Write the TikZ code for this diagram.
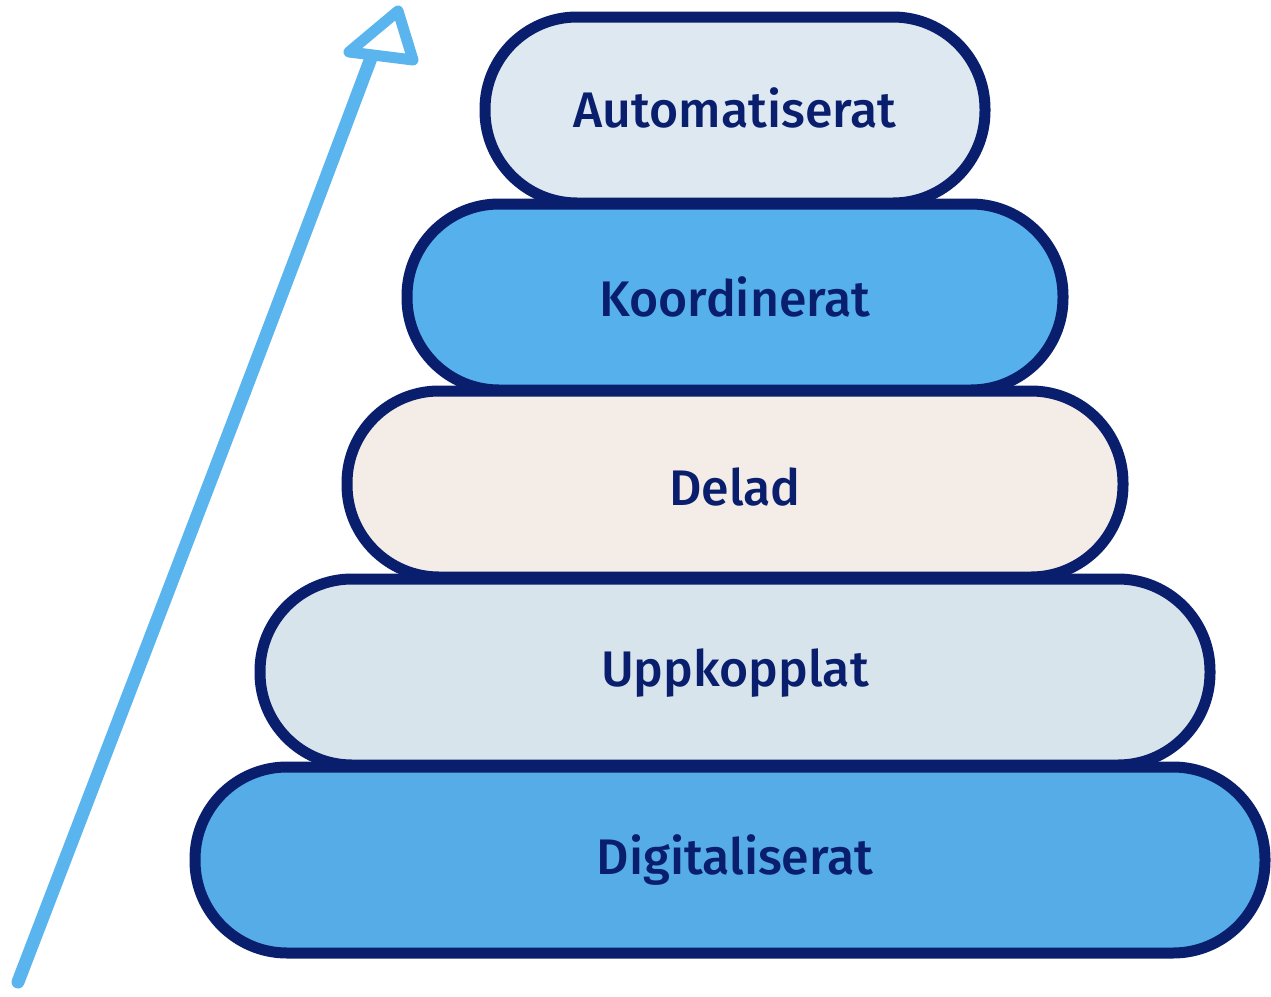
\documentclass[tikz,border=0pt]{standalone}
\usepackage{fontspec}
\setmainfont{Fira Sans}[BoldFont={Fira Sans Medium}]
\definecolor{navy}{HTML}{0A1E6E}
\definecolor{fillA}{HTML}{DDE8F1}
\definecolor{fillK}{HTML}{55B0EC}
\definecolor{fillD}{HTML}{F4ECE6}
\definecolor{fillU}{HTML}{D8E4EC}
\definecolor{fillG}{HTML}{55ACE6}
\definecolor{arrowblue}{HTML}{5AB4EE}
\tikzset{
  tier/.style={draw=navy, line width=11pt, rounded corners=92pt, minimum height=186pt,
    inner sep=0pt},
  label/.style={text=navy, font=\fontsize{50}{60}\selectfont\bfseries},
  sketch/.style={draw=arrowblue, line width=13pt, line cap=round, line join=round}
}
\begin{document}
\begin{tikzpicture}[x=1pt,y=-1pt]
\useasboundingbox (0,0) rectangle (1271,996);
\node[tier, fill=fillA, minimum width=500pt] (auto) at (735,110) {};
\node[tier, fill=fillK, minimum width=656pt] (koord) at (735,297) {};
\node[tier, fill=fillD, minimum width=776pt] (delad) at (735,484) {};
\node[tier, fill=fillU, minimum width=950pt] (upp) at (735,672) {};
\node[tier, fill=fillG, minimum width=1070pt] (digi) at (730,860) {};
\node[label] (tA) at (735,108) {Automatiserat};
\node[label] (tK) at (735,297) {Koordinerat};
\node[label] (tD) at (735,487) {Delad};
\node[label] (tU) at (735,673) {Uppkopplat};
\node[label] (tG) at (735,860) {Digitaliserat};
\coordinate (s0) at (18,982);
\coordinate (s1) at (371,58);
\coordinate (h0) at (398,11);
\coordinate (h1) at (349,52);
\coordinate (h2) at (413,60);
\draw[sketch] (s0) .. controls (180,560) and (250,380) .. (s1);
\draw[sketch, line width=11pt] (h0) -- (h1) -- (h2) -- cycle;
\end{tikzpicture}
\end{document}
